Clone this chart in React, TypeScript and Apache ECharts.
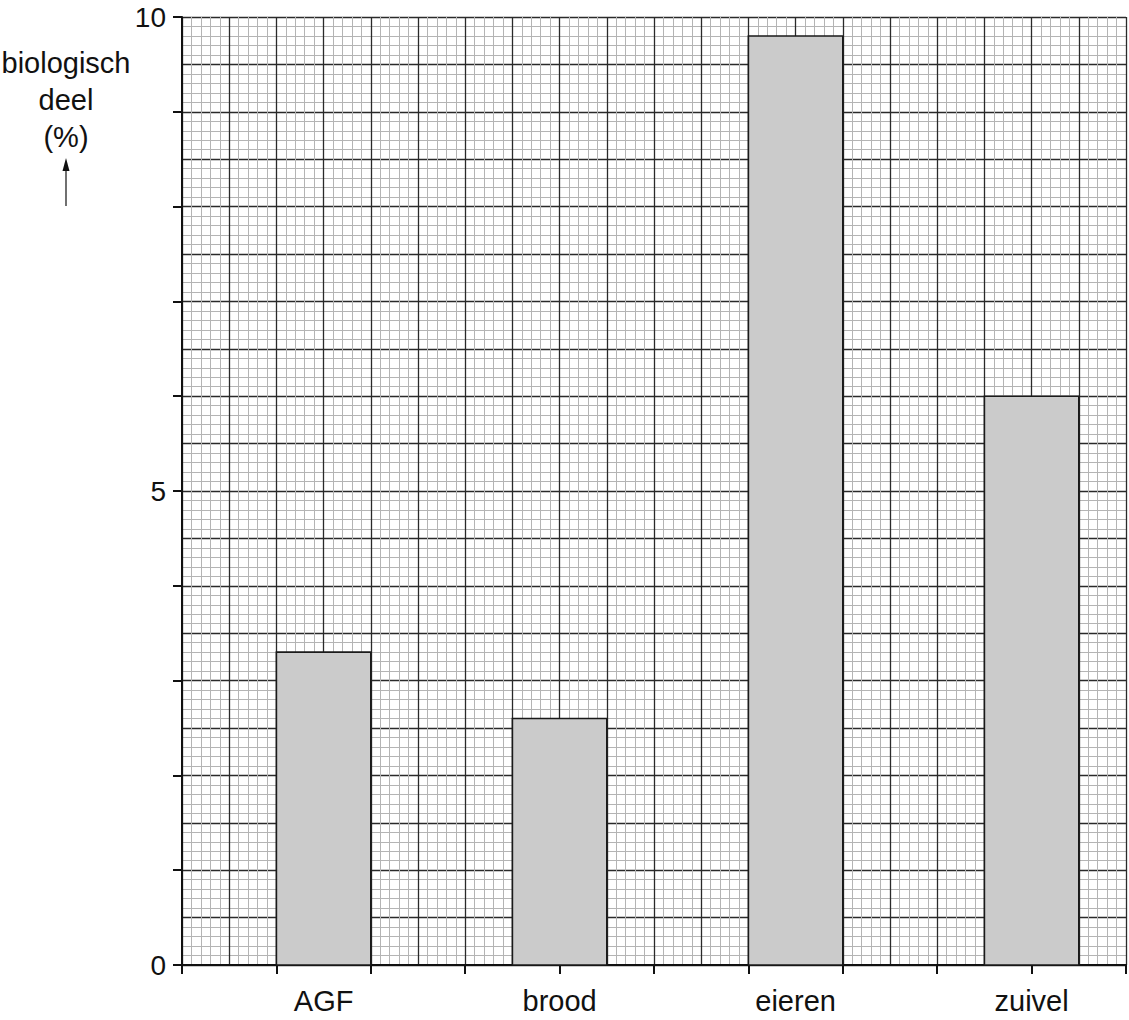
import React, { useEffect, useRef } from "react";
import * as echarts from "echarts";

const categories = ["AGF", "brood", "eieren", "zuivel"];
const values = [3.3, 2.6, 9.8, 6.0];
// bar centres in axis units (x axis runs 0..10)
const barCenters = [1.5, 4, 6.5, 9];
const yTickLabels = [0, 5, 10];
const yAxisName = ["biologisch", "deel", "(%)"];

const FONT = "'Liberation Sans', Arial, sans-serif";
const BAR_WIDTH = 1;

export default function App() {
  const ref = useRef<HTMLDivElement>(null);
  useEffect(() => {
    document.body.style.margin = "0";
    const chart = echarts.init(ref.current!, undefined, { renderer: "svg" });
    const fine = { show: true, lineStyle: { color: "#b4b4b4", width: 1 } };
    const dark = { show: true, lineStyle: { color: "#2a2a2a", width: 1.3 } };
    const labelMap: Record<string, string> = {};
    barCenters.forEach((c, i) => (labelMap[String(c)] = categories[i]));

    chart.setOption({
      animation: false,
      grid: { left: 182, top: 17, right: 2, bottom: 55 },
      xAxis: [
        {
          type: "value", min: 0, max: 10, interval: 0.5,
          axisLine: { show: false }, axisTick: { show: false }, axisLabel: { show: false },
          splitLine: dark,
          minorTick: { show: false, splitNumber: 5 },
          minorSplitLine: fine,
        },
        {
          type: "value", min: 0, max: 10, interval: 1, position: "bottom",
          axisLine: { show: true, lineStyle: { color: "#111", width: 2 } },
          axisTick: { show: true, inside: false, length: 9, lineStyle: { color: "#111", width: 2 } },
          axisLabel: { show: false },
          splitLine: { show: false },
        },
        {
          type: "value", min: 0, max: 10, interval: 0.5, position: "bottom",
          axisLine: { show: false }, axisTick: { show: false },
          splitLine: { show: false },
          axisLabel: {
            show: true, margin: 21, fontSize: 29, fontFamily: FONT, color: "#111",
            formatter: (v: number) => labelMap[String(v)] || "",
          },
        },
      ],
      yAxis: [
        {
          type: "value", min: 0, max: 10, interval: 0.5,
          axisLine: { show: false }, axisTick: { show: false }, axisLabel: { show: false },
          splitLine: dark,
          minorTick: { show: false, splitNumber: 5 },
          minorSplitLine: fine,
        },
        {
          type: "value", min: 0, max: 10, interval: 1, position: "left",
          axisLine: { show: true, lineStyle: { color: "#111", width: 2 } },
          axisTick: { show: true, inside: false, length: 9, lineStyle: { color: "#111", width: 2 } },
          splitLine: { show: false },
          axisLabel: {
            show: true, margin: 16, fontSize: 28, fontFamily: FONT, color: "#111",
            formatter: (v: number) => (yTickLabels.includes(v) ? String(v) : ""),
          },
        },
      ],
      series: [
        {
          type: "custom",
          xAxisIndex: 0,
          yAxisIndex: 0,
          data: values.map((v, i) => [barCenters[i], v]),
          encode: { x: 0, y: 1 },
          renderItem: (params: any, api: any) => {
            const c = api.value(0);
            const v = api.value(1);
            const p0 = api.coord([c - BAR_WIDTH / 2, v]);
            const p1 = api.coord([c + BAR_WIDTH / 2, 0]);
            return {
              type: "rect",
              shape: { x: p0[0], y: p0[1], width: p1[0] - p0[0], height: p1[1] - p0[1] },
              style: { fill: "#cbcbcb", stroke: "#1a1a1a", lineWidth: 1.6 },
            };
          },
          z: 5,
        },
      ],
      graphic: [
        {
          type: "text",
          x: 66,
          y: 44,
          style: {
            text: yAxisName.join("\n"),
            fontSize: 29,
            fontFamily: FONT,
            fill: "#111",
            lineHeight: 37,
            align: "center",
            verticalAlign: "top",
          },
        },
        {
          type: "line",
          shape: { x1: 66, y1: 206, x2: 66, y2: 168 },
          style: { stroke: "#111", lineWidth: 1.2 },
        },
        {
          type: "polygon",
          shape: { points: [[66, 158], [62.5, 171], [69.5, 171]] },
          style: { fill: "#111" },
        },
      ],
    });
    return () => chart.dispose();
  }, []);
  return <div ref={ref} style={{ width: 1129, height: 1020 }} />;
}
